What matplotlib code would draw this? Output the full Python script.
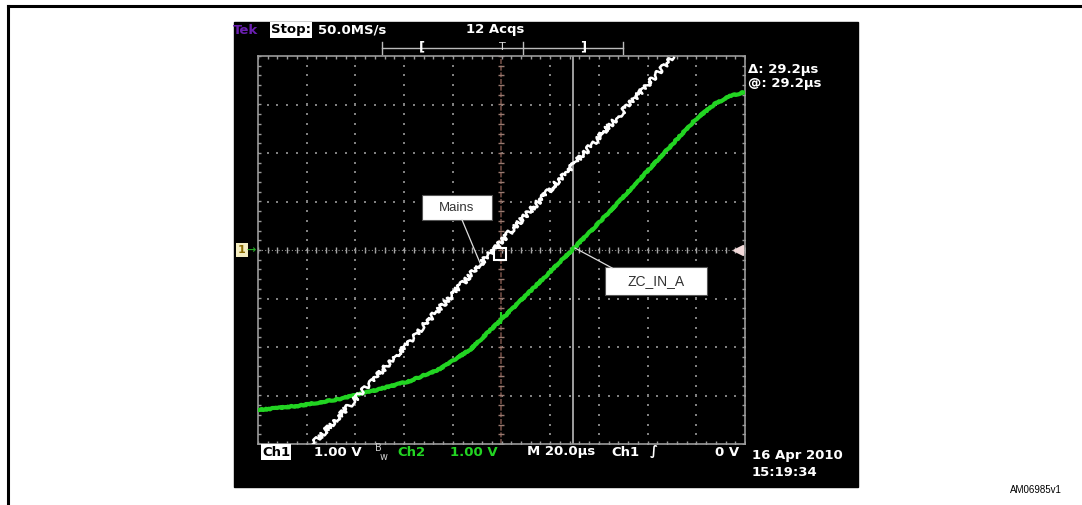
import numpy as np
import matplotlib.pyplot as plt
from matplotlib.patches import Rectangle

# traces in scope divisions (x: 20 us/div, y: 1 V/div)
ch1_x = [-3.87, -2.0, -0.17, 1.7, 3.52]
ch1_y = [-4.0, -2.0, 0.0, 2.0, 3.98]

ch2_x = [-5.0, -4.14, -3.32, -2.66, -1.88, -1.26, -0.65, -0.03, 0.59, 1.45,
         2.23, 2.84, 3.46, 3.97, 4.38, 4.69, 5.0]
ch2_y = [-3.30, -3.21, -3.07, -2.91, -2.70, -2.45, -2.06, -1.46, -0.85, 0.0,
         0.80, 1.46, 2.13, 2.68, 3.01, 3.17, 3.26]

cursor_x = 1.46
W, H = 1082, 505


def px(x, y):
    # pixel position -> figure fraction
    return x / W, 1 - y / H


fig = plt.figure(figsize=(W / 100, H / 100), dpi=100)
fig.patch.set_facecolor('white')

# outer frame (top + left lines)
fig.add_artist(plt.Line2D([8 / W, 1], [1 - 6 / H, 1 - 6 / H], color='black', lw=2.2))
fig.add_artist(plt.Line2D([8 / W, 8 / W], [1 - 6 / H, 0], color='black', lw=2.2))

# scope screen
x0, y0 = px(234, 487)
fig.add_artist(Rectangle((x0, y0), (858 - 234) / W, (487 - 22) / H,
                         transform=fig.transFigure, color='black', zorder=0))

ax = fig.add_axes([258 / W, 1 - 444 / H, 487 / W, 388 / H])
ax.set_facecolor('black')
ax.set_xlim(-5, 5)
ax.set_ylim(-4, 4)
ax.set_xticks([])
ax.set_yticks([])
for s in ax.spines.values():
    s.set_color('#9a9a9a')
    s.set_linewidth(1.2)

grid_c = '#808080'
fine_x = np.arange(-5, 5.01, 0.2)
fine_y = np.arange(-4, 4.01, 0.2)
for gx in range(-4, 5):
    if gx == 0:
        continue
    ax.plot(np.full(len(fine_y), gx), fine_y, ls='none', marker='s', ms=1.5, color=grid_c, mew=0)
for gy in range(-3, 4):
    if gy == 0:
        continue
    ax.plot(fine_x, np.full(len(fine_x), gy), ls='none', marker='s', ms=1.5, color=grid_c, mew=0)

# centre lines with minor ticks
ax.plot(fine_x, np.zeros(len(fine_x)), ls='none', marker='|', ms=5, color='#a8a8a8', mew=1)
ax.plot(fine_x, np.zeros(len(fine_x)), ls=(0, (1, 2)), lw=0.8, color='#909090')
ax.axvline(0, color='#6e4a42', lw=1.2, ls=(0, (3, 1)))
ax.plot(np.zeros(len(fine_y)), fine_y, ls='none', marker='_', ms=5, color='#9a7a70', mew=1)
# edge ticks
ax.plot(fine_x, np.full(len(fine_x), -4), ls='none', marker='|', ms=5, color='#9a9a9a', mew=1)
ax.plot(fine_x, np.full(len(fine_x), 4), ls='none', marker='|', ms=5, color='#9a9a9a', mew=1)
ax.plot(np.full(len(fine_y), -5), fine_y, ls='none', marker='_', ms=5, color='#9a9a9a', mew=1)
ax.plot(np.full(len(fine_y), 5), fine_y, ls='none', marker='_', ms=5, color='#9a9a9a', mew=1)

# cursor
ax.axvline(cursor_x, color='#c8c8c8', lw=1.1)

# traces
l2, = ax.plot(ch2_x, ch2_y, color='#22d422', lw=3.0, zorder=5,
              solid_joinstyle='round', solid_capstyle='round')
l2.set_sketch_params(scale=0.6, length=4, randomness=20)
l1, = ax.plot(ch1_x, ch1_y, color='white', lw=1.8, zorder=6)
l1.set_sketch_params(scale=2.6, length=3, randomness=60)

# trace markers
ax.plot([-0.03], [-0.08], marker='s', ms=8, mfc='none', mec='white', mew=1.5, zorder=7)
ax.plot([0.0], [-1.4], marker='|', ms=8, color='#22d422', mew=1.5, zorder=7)
ax.plot([4.86], [0], marker='<', ms=7, color='#f3dada', clip_on=False, zorder=7)

# callouts (box corners and leader ends in divisions)
ax.add_patch(Rectangle((-1.63, 0.62), 1.43, 0.51, fc='white', ec='#555555', lw=0.8, zorder=8))
ax.text(-0.915, 0.875, 'Mains', ha='center', va='center', fontsize=9.5,
        family='Liberation Sans', color='#333333', zorder=9)
ax.plot([-0.81, -0.44], [0.62, -0.27], color='#dddddd', lw=0.9, zorder=8)

ax.add_patch(Rectangle((2.12, -0.93), 2.1, 0.58, fc='white', ec='#555555', lw=0.8, zorder=8))
ax.text(3.17, -0.64, 'ZC_IN_A', ha='center', va='center', fontsize=10,
        family='Liberation Sans', color='#333333', zorder=9)
ax.plot([1.51, 2.27], [0.04, -0.37], color='#dddddd', lw=0.9, zorder=8)

# scope status text
st = dict(fontsize=9.5, fontweight='bold', family='DejaVu Sans', va='center')
fig.text(*px(233, 30), 'Tek', color='#6a1fb0', **st)
fig.text(*px(271, 30), 'Stop:', color='black', bbox=dict(boxstyle='square,pad=0.1', fc='white', ec='none'), **st)
fig.text(*px(318, 30), '50.0MS/s', color='white', **st)
fig.text(*px(466, 30), '12 Acqs', color='white', **st)

# record bar
bar_y = 1 - 48 / H
fig.add_artist(plt.Line2D([382 / W, 623 / W], [bar_y, bar_y], color='#bbbbbb', lw=1))
for tx in [382, 523, 623]:
    fig.add_artist(plt.Line2D([tx / W, tx / W], [bar_y - 6 / H, bar_y + 6 / H], color='#bbbbbb', lw=1))
fig.text(*px(422, 47), '[', color='white', ha='center', **st)
fig.text(*px(583, 47), ']', color='white', ha='center', **st)
fig.text(*px(502, 47), 'T', color='#dddddd', ha='center', fontsize=8, va='center', family='DejaVu Sans')

fig.text(*px(748, 69), '\u0394: 29.2\u00b5s', color='white', **st)
fig.text(*px(748, 83), '@: 29.2\u00b5s', color='white', **st)

# ch1 ground marker
fig.text(*px(238, 250), '1', color='#8a6a00', fontsize=8, fontweight='bold', va='center',
         bbox=dict(boxstyle='square,pad=0.2', fc='#f3ecc0', ec='none'))
fig.text(*px(246, 250), '\u2192', color='#22a422', fontsize=8, fontweight='bold', va='center')

# bottom readout
by = 452
fig.text(*px(262, by), 'Ch1', color='black', bbox=dict(boxstyle='square,pad=0.1', fc='white', ec='none'), **st)
fig.text(*px(314, by), '1.00 V', color='white', **st)
fig.text(*px(375, by + 1), 'B', color='#cccccc', fontsize=7, family='DejaVu Sans', va='bottom')
fig.text(*px(380, by), 'w', color='#cccccc', fontsize=7, family='DejaVu Sans', va='top')
fig.text(*px(397, by), 'Ch2', color='#22d422', **st)
fig.text(*px(450, by), '1.00 V', color='#22d422', **st)
fig.text(*px(527, by), 'M 20.0\u00b5s', color='white', **st)
fig.text(*px(611, by), 'Ch1', color='white', **st)
fig.text(*px(650, by), '\u222b', color='white', **st)
fig.text(*px(715, by), '0 V', color='white', **st)
fig.text(*px(752, 455), '16 Apr 2010', color='white', **st)
fig.text(*px(752, 473), '15:19:34', color='white', **st)

fig.text(*px(1010, 490), 'AM06985v1', color='black', fontsize=7, family='Liberation Sans', va='center')

fig.savefig('out.png', dpi=100, facecolor='white')
